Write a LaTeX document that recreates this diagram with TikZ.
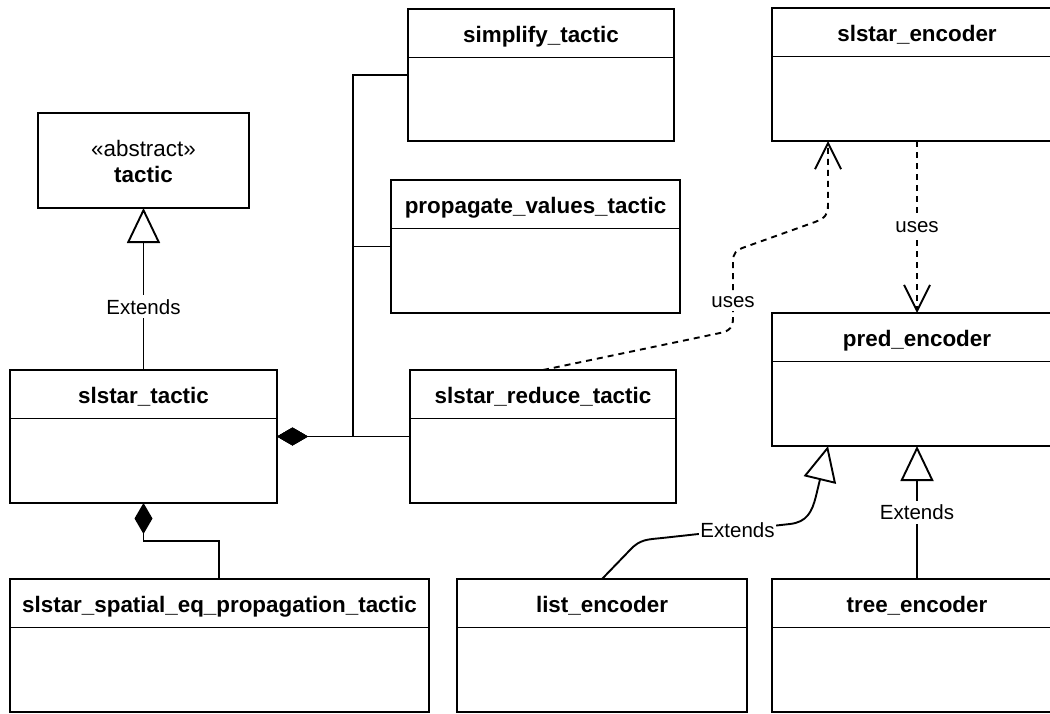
\documentclass[tikz,border=0pt]{standalone}
\usepackage{fontspec}
\setmainfont{Liberation Sans}
\usetikzlibrary{arrows.meta,calc}

\tikzset{
  uml/.style={line width=1.9pt},
  classbox/.style={draw, line width=1.9pt, rectangle, outer sep=0pt, inner sep=0pt, anchor=north west},
  classtitle/.style={anchor=base, inner sep=0pt, font=\fontsize{22.4}{27}\selectfont\bfseries},
  stereo/.style={anchor=base, inner sep=0pt, font=\fontsize{22.4}{27}\selectfont},
  lbl/.style={fill=white, inner xsep=1pt, inner ysep=4pt, font=\fontsize{20.5}{24}\selectfont},
  ext/.style={uml, -{Triangle[open, length=35pt, width=33pt]}},
  comp/.style={uml, -{Diamond[length=31pt, width=18pt]}},
  dep/.style={uml, dash pattern=on 6pt off 5pt, -{Straight Barb[length=26pt, width=26pt]}},
}

% class box: name, x, y, width, height, title
\newcommand\umlclass[6]{%
  \node[classbox, minimum width=#4pt, minimum height=#5pt] (#1) at (#2,#3) {};
  \draw[uml] ($(#1.north west)+(0,48.5)$) -- ($(#1.north east)+(0,48.5)$);
  \node[classtitle] (#1-t) at ($(#1.north)+(0,33.5)$) {#6};
}

\begin{document}
\begin{tikzpicture}[x=1pt, y=-1pt]
  \useasboundingbox (0,0) rectangle (1050,713);
  \fill[white] (0,0) rectangle (1050,713);

  % abstract base class
  \node[classbox, minimum width=211pt, minimum height=95pt] (tactic) at (38,113) {};
  \node[stereo] (tactic-s) at ($(tactic.north)+(0,43)$) {«abstract»};
  \node[classtitle] (tactic-t) at ($(tactic.north)+(0,69.7)$) {tactic};

  % tactics
  \umlclass{simp}{408}{9}{266}{132}{simplify\_tactic}
  \umlclass{prop}{391}{180}{289}{133}{propagate\_values\_tactic}
  \umlclass{st}{10}{370}{267}{133}{slstar\_tactic}
  \umlclass{red}{410}{370}{266}{133}{slstar\_reduce\_tactic}
  \umlclass{sp}{10}{579}{419}{133}{slstar\_spatial\_eq\_propagation\_tactic}

  % encoders
  \umlclass{enc}{772}{8}{290}{133}{slstar\_encoder}
  \umlclass{pred}{772}{313}{290}{133}{pred\_encoder}
  \umlclass{list}{457}{579}{290}{133}{list\_encoder}
  \umlclass{tree}{772}{579}{290}{133}{tree\_encoder}

  % generalisation
  \draw[ext] (st.north) -- (tactic.south) node[lbl, pos=0.39] {Extends};
  \draw[ext] (tree.north) -- (pred.south) node[lbl, pos=0.5] {Extends};
  \draw[ext] ($(list.north west)+(145,0)$) -- (630,550)
     .. controls (640,539) and (648,539.5) .. (662,538)
     -- node[lbl, pos=0.59] {Extends} (790,524)
     .. controls (807,522) and (812,512) .. (816,496)
     -- ($(pred.south west)+(56,0)$);

  % composition
  \draw[comp] (red.west) -- (st.east);
  \draw[comp] (simp.west) -- ++(-55,0) |- (st.east);
  \draw[comp] (prop.west) -- ++(-38,0) |- (st.east);
  \draw[comp] ($(sp.north west)+(209,0)$) -- ++(0,-38) -| (st.south);

  % dependencies
  \draw[dep] (enc.south) -- (pred.north) node[lbl, pos=0.5] {uses};
  \draw[dep] (red.north) -- (720,333)
     .. controls (730,331) and (733,327) .. (733,318)
     -- node[lbl, pos=0.29] {uses} (733,262)
     .. controls (733,253) and (736,250) .. (745,247)
     -- (815,222)
     .. controls (825,218) and (828,215) .. (828,205)
     -- ($(enc.south west)+(56,0)$);
\end{tikzpicture}
\end{document}
